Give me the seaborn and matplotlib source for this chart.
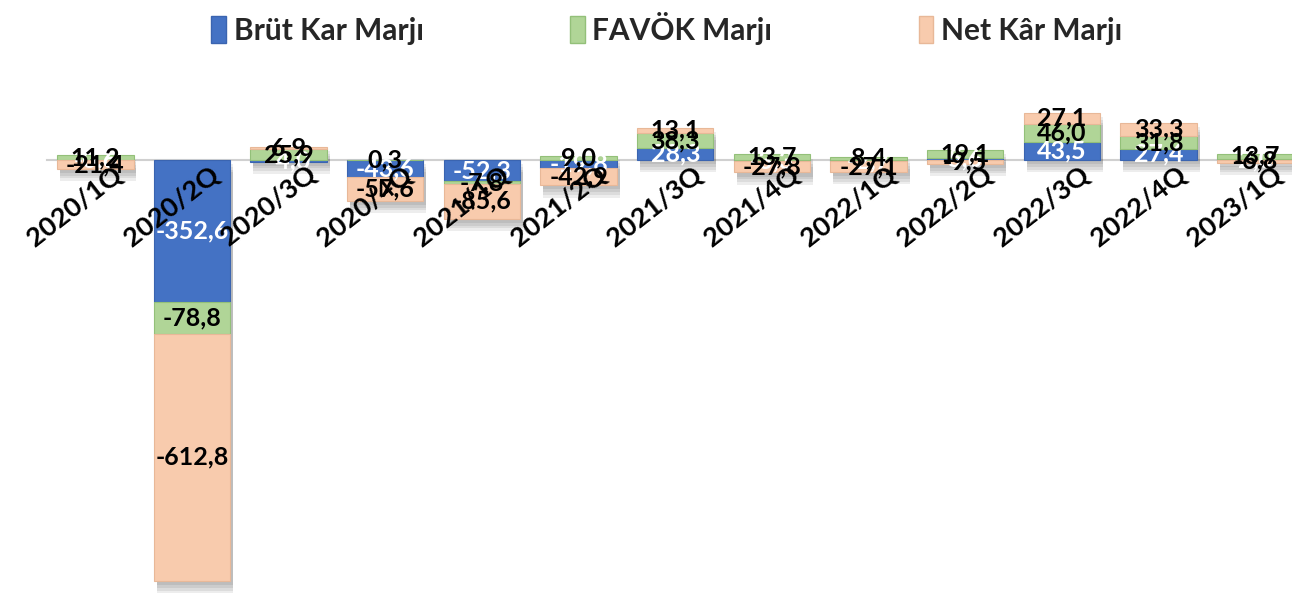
import matplotlib
matplotlib.use("Agg")
import matplotlib.pyplot as plt
import matplotlib.patheffects as pe
import matplotlib.transforms as mtransforms
from matplotlib.patches import Patch
import seaborn as sns

# --- Data ---
quarters = ["2020/1Q", "2020/2Q", "2020/3Q", "2020/4Q", "2021/1Q", "2021/2Q", "2021/3Q",
            "2021/4Q", "2022/1Q", "2022/2Q", "2022/3Q", "2022/4Q", "2023/1Q"]
brut_kar = [-0.6, -352.6, -4.0, -43.6, -52.3, -19.8, 28.3, -3.3, -2.7, 5.6, 43.5, 27.4, 2.0]
favok = [11.2, -78.8, 25.9, 0.3, -7.8, 9.0, 38.3, 13.7, 8.4, 19.1, 46.0, 31.8, 13.7]
net_kar = [-21.4, -612.8, 6.9, -57.6, -85.6, -42.9, 13.1, -27.8, -27.1, -9.5, 27.1, 33.3, -6.8]

series_names = ["Brüt Kar Marjı", "FAVÖK Marjı", "Net Kâr Marjı"]
series_values = [brut_kar, favok, net_kar]
colors = ["#4472C4", "#B0D597", "#F8CBAD"]
edge_colors = ["#3A64B0", "#93C079", "#E8B898"]
label_colors = ["white", "black", "black"]

sns.set_theme(style="white")
plt.rcParams["font.family"] = ["Lato", "DejaVu Sans"]

fig = plt.figure(figsize=(12.92, 6.13), dpi=100)
ax = fig.add_axes([47 / 1292, 0, 1 - 47 / 1292, 543 / 613])

pos_base = [0.0] * len(quarters)
neg_base = [0.0] * len(quarters)
labels = []

for name, vals, c, ec, lc in zip(series_names, series_values, colors, edge_colors, label_colors):
    sns.barplot(x=quarters, y=vals, order=quarters, color=c, saturation=1, width=0.79,
                edgecolor=ec, linewidth=0.8, ax=ax, zorder=2)
    bars = ax.patches[-len(quarters):]
    for i, (rect, v) in enumerate(zip(bars, vals)):
        if v >= 0:
            bottom = pos_base[i]
            pos_base[i] += v
        else:
            bottom = neg_base[i]
            neg_base[i] += v
        rect.set_y(bottom)
        rect.set_height(v)
        labels.append((rect.get_x() + rect.get_width() / 2, bottom + v / 2, v, lc))

# soft shadow behind each whole stacked column
shadow = [pe.SimplePatchShadow(offset=(2, -k), shadow_rgbFace="black", alpha=0.07) for k in (3, 5, 7, 9)]
ax.bar(range(len(quarters)), [p - n for p, n in zip(pos_base, neg_base)], bottom=neg_base,
       width=0.79, color="none", zorder=1.5, path_effects=shadow)

for x, y, v, lc in labels:
    ax.text(x, y, f"{v:.1f}".replace(".", ","), ha="center", va="center",
            color=lc, fontsize=18, fontweight="bold", zorder=5)

ax.set_ylim(-1124, 223)
ax.set_xlim(-0.5, 12.38)
ax.set_yticks([])
ax.set_ylabel("")
for s in ["top", "right", "left"]:
    ax.spines[s].set_visible(False)
ax.spines["bottom"].set_position(("data", 0))
ax.spines["bottom"].set_color("#D0D0D0")
ax.spines["bottom"].set_linewidth(1.5)
ax.spines["bottom"].set_zorder(1)
ax.xaxis.set_zorder(6)
ax.tick_params(axis="x", length=0, pad=0)
ax.set_xticks(range(len(quarters)))
ax.set_xticklabels(quarters, rotation=38, ha="right", va="center", rotation_mode="anchor",
                   fontsize=19.5, fontweight="bold", color="black")
offset = mtransforms.ScaledTranslation(0.24, -0.11, fig.dpi_scale_trans)
for lbl in ax.get_xticklabels():
    lbl.set_transform(lbl.get_transform() + offset)

handles = [Patch(facecolor=c, edgecolor=ec) for c, ec in zip(colors, edge_colors)]
fig.legend(handles, series_names, loc="upper center", bbox_to_anchor=(0.516, 1.025), ncol=3,
           frameon=False, prop={"size": 21.5, "weight": "bold"}, handlelength=0.5,
           handleheight=1.0, handletextpad=0.25, columnspacing=4.9)

fig.savefig("out.png", dpi=100)
